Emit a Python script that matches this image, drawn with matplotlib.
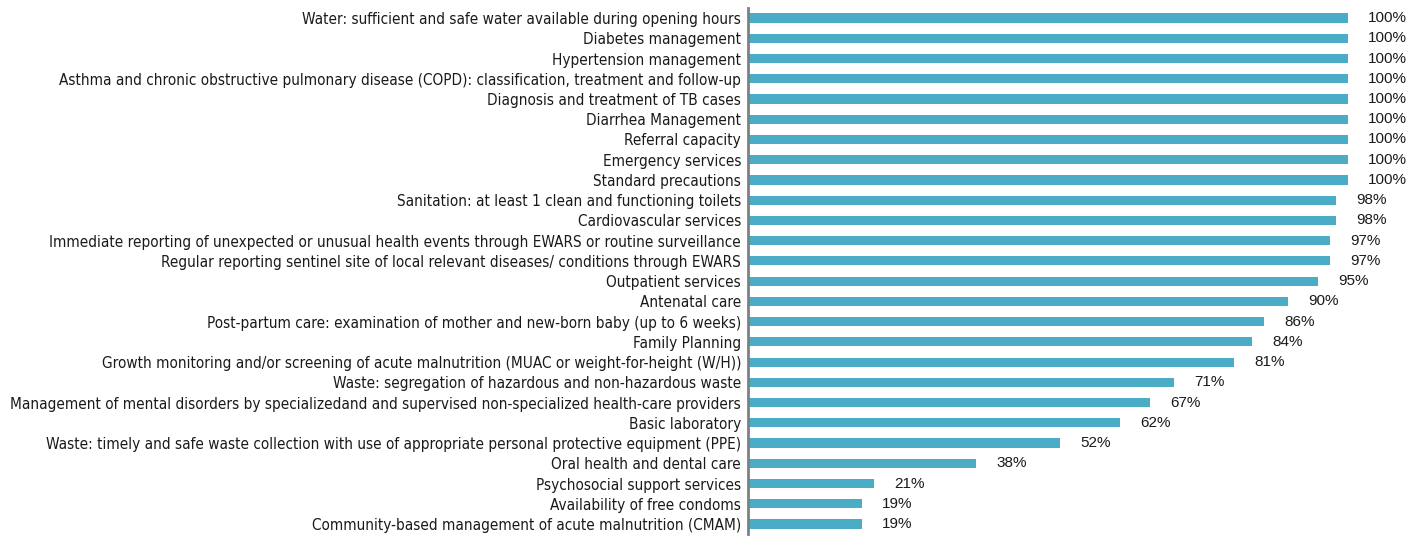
import matplotlib
matplotlib.use("Agg")
import matplotlib.pyplot as plt

categories = [
    "Water: sufficient and safe water available during opening hours",
    "Diabetes management",
    "Hypertension management",
    "Asthma and chronic obstructive pulmonary disease (COPD): classification, treatment and follow-up",
    "Diagnosis and treatment of TB cases",
    "Diarrhea Management",
    "Referral capacity",
    "Emergency services",
    "Standard precautions",
    "Sanitation: at least 1 clean and functioning toilets",
    "Cardiovascular services",
    "Immediate reporting of unexpected or unusual health events through EWARS or routine surveillance",
    "Regular reporting sentinel site of local relevant diseases/ conditions through EWARS",
    "Outpatient services",
    "Antenatal care",
    "Post-partum care: examination of mother and new-born baby (up to 6 weeks)",
    "Family Planning",
    "Growth monitoring and/or screening of acute malnutrition (MUAC or weight-for-height (W/H))",
    "Waste: segregation of hazardous and non-hazardous waste",
    "Management of mental disorders by specializedand and supervised non-specialized health-care providers",
    "Basic laboratory",
    "Waste: timely and safe waste collection with use of appropriate personal protective equipment (PPE)",
    "Oral health and dental care",
    "Psychosocial support services",
    "Availability of free condoms",
    "Community-based management of acute malnutrition (CMAM)",
]
values = [100, 100, 100, 100, 100, 100, 100, 100, 100, 98, 98, 97, 97, 95,
          90, 86, 84, 81, 71, 67, 62, 52, 38, 21, 19, 19]

fig = plt.figure(figsize=(14.24, 5.36), dpi=100)
ax = fig.add_axes([748 / 1424, 0.0035, 660 / 1424, 0.9817])

ypos = list(range(len(categories)))
ax.barh(ypos, values, height=0.45, color="#4bacc6")
ax.set_ylim(len(categories) - 0.5, -0.5)
ax.set_xlim(0, 110)

ax.set_yticks(ypos)
ax.set_yticklabels(categories, fontsize=11.5, family="DejaVu Sans",
                   fontstretch="condensed", color="#1a1a1a")
ax.tick_params(axis="y", length=0, pad=5)
ax.set_xticks([])

for s in ["top", "right", "bottom"]:
    ax.spines[s].set_visible(False)
ax.spines["left"].set_color("#808080")
ax.spines["left"].set_linewidth(2)

# shrink the category labels so the longest one fits like the reference (~730 px)
fig.canvas.draw()
r = fig.canvas.get_renderer()
widest = max(t.get_window_extent(r).width for t in ax.get_yticklabels())
if widest > 730:
    for t in ax.get_yticklabels():
        t.set_fontsize(11.5 * 730 / widest)

# value labels right of each bar
for y, v in zip(ypos, values):
    ax.annotate(f"{v}%", (v, y), xytext=(20, 0), textcoords="offset pixels",
                va="center", ha="left", fontsize=11, family="Liberation Sans",
                color="#1a1a1a")

fig.savefig("out.png", dpi=100)
